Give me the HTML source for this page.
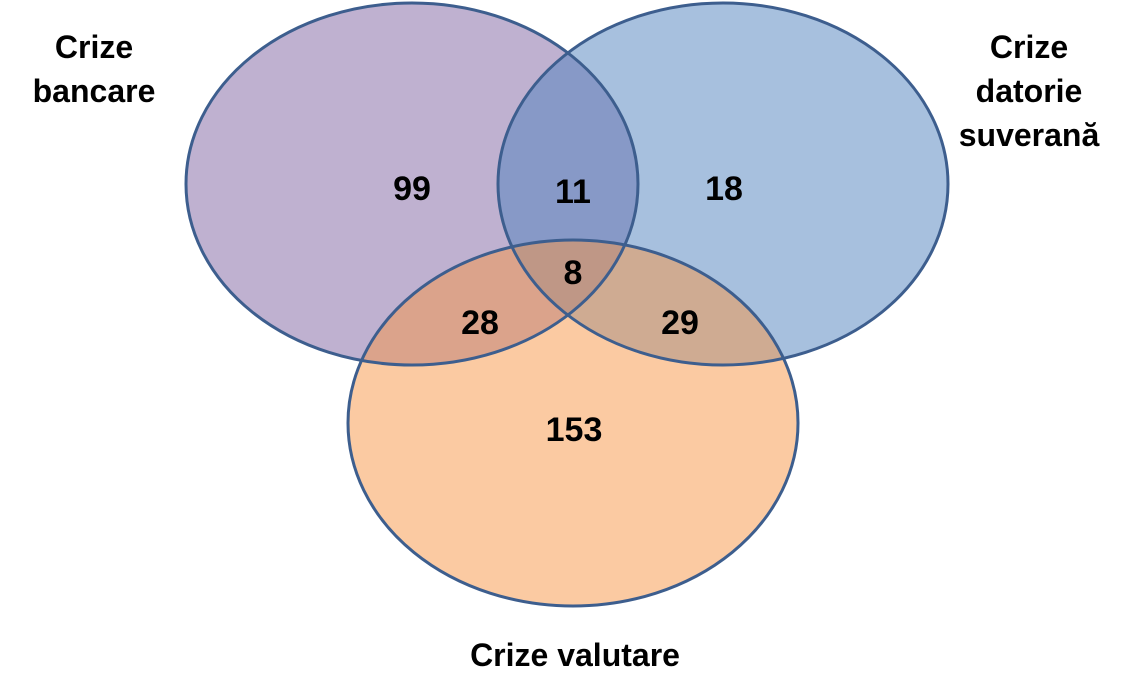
<!DOCTYPE html>
<html><head><meta charset="utf-8"><style>
html,body{margin:0;padding:0;background:#fff;}
svg{display:block;}
text{font-family:"Liberation Sans",sans-serif;font-weight:bold;fill:#000;}
</style></head><body>
<svg width="1125" height="699" viewBox="0 0 1125 699" xmlns="http://www.w3.org/2000/svg">
<ellipse cx="412" cy="184" rx="226" ry="181" fill="rgb(128,100,162)" fill-opacity="0.5"/>
<ellipse cx="723" cy="184" rx="225" ry="181" fill="rgb(79,129,189)" fill-opacity="0.5"/>
<ellipse cx="573" cy="423" rx="225" ry="183" fill="rgb(247,150,70)" fill-opacity="0.5"/>
<ellipse cx="412" cy="184" rx="226" ry="181" fill="none" stroke="#3d5e8e" stroke-width="3"/>
<ellipse cx="723" cy="184" rx="225" ry="181" fill="none" stroke="#3d5e8e" stroke-width="3"/>
<ellipse cx="573" cy="423" rx="225" ry="183" fill="none" stroke="#3d5e8e" stroke-width="3"/>
<g font-size="34" text-anchor="middle">
<text x="412" y="200">99</text>
<text x="573" y="203">11</text>
<text x="724" y="200">18</text>
<text x="573" y="284">8</text>
<text x="480" y="334">28</text>
<text x="680" y="334">29</text>
<text x="574" y="441">153</text>
</g>
<g font-size="32" text-anchor="middle">
<text x="94" y="58">Crize</text>
<text x="94" y="102">bancare</text>
<text x="1029" y="58">Crize</text>
<text x="1029" y="102">datorie</text>
<text x="1029" y="146">suverană</text>
<text x="575" y="666">Crize valutare</text>
</g>
</svg>
</body></html>
